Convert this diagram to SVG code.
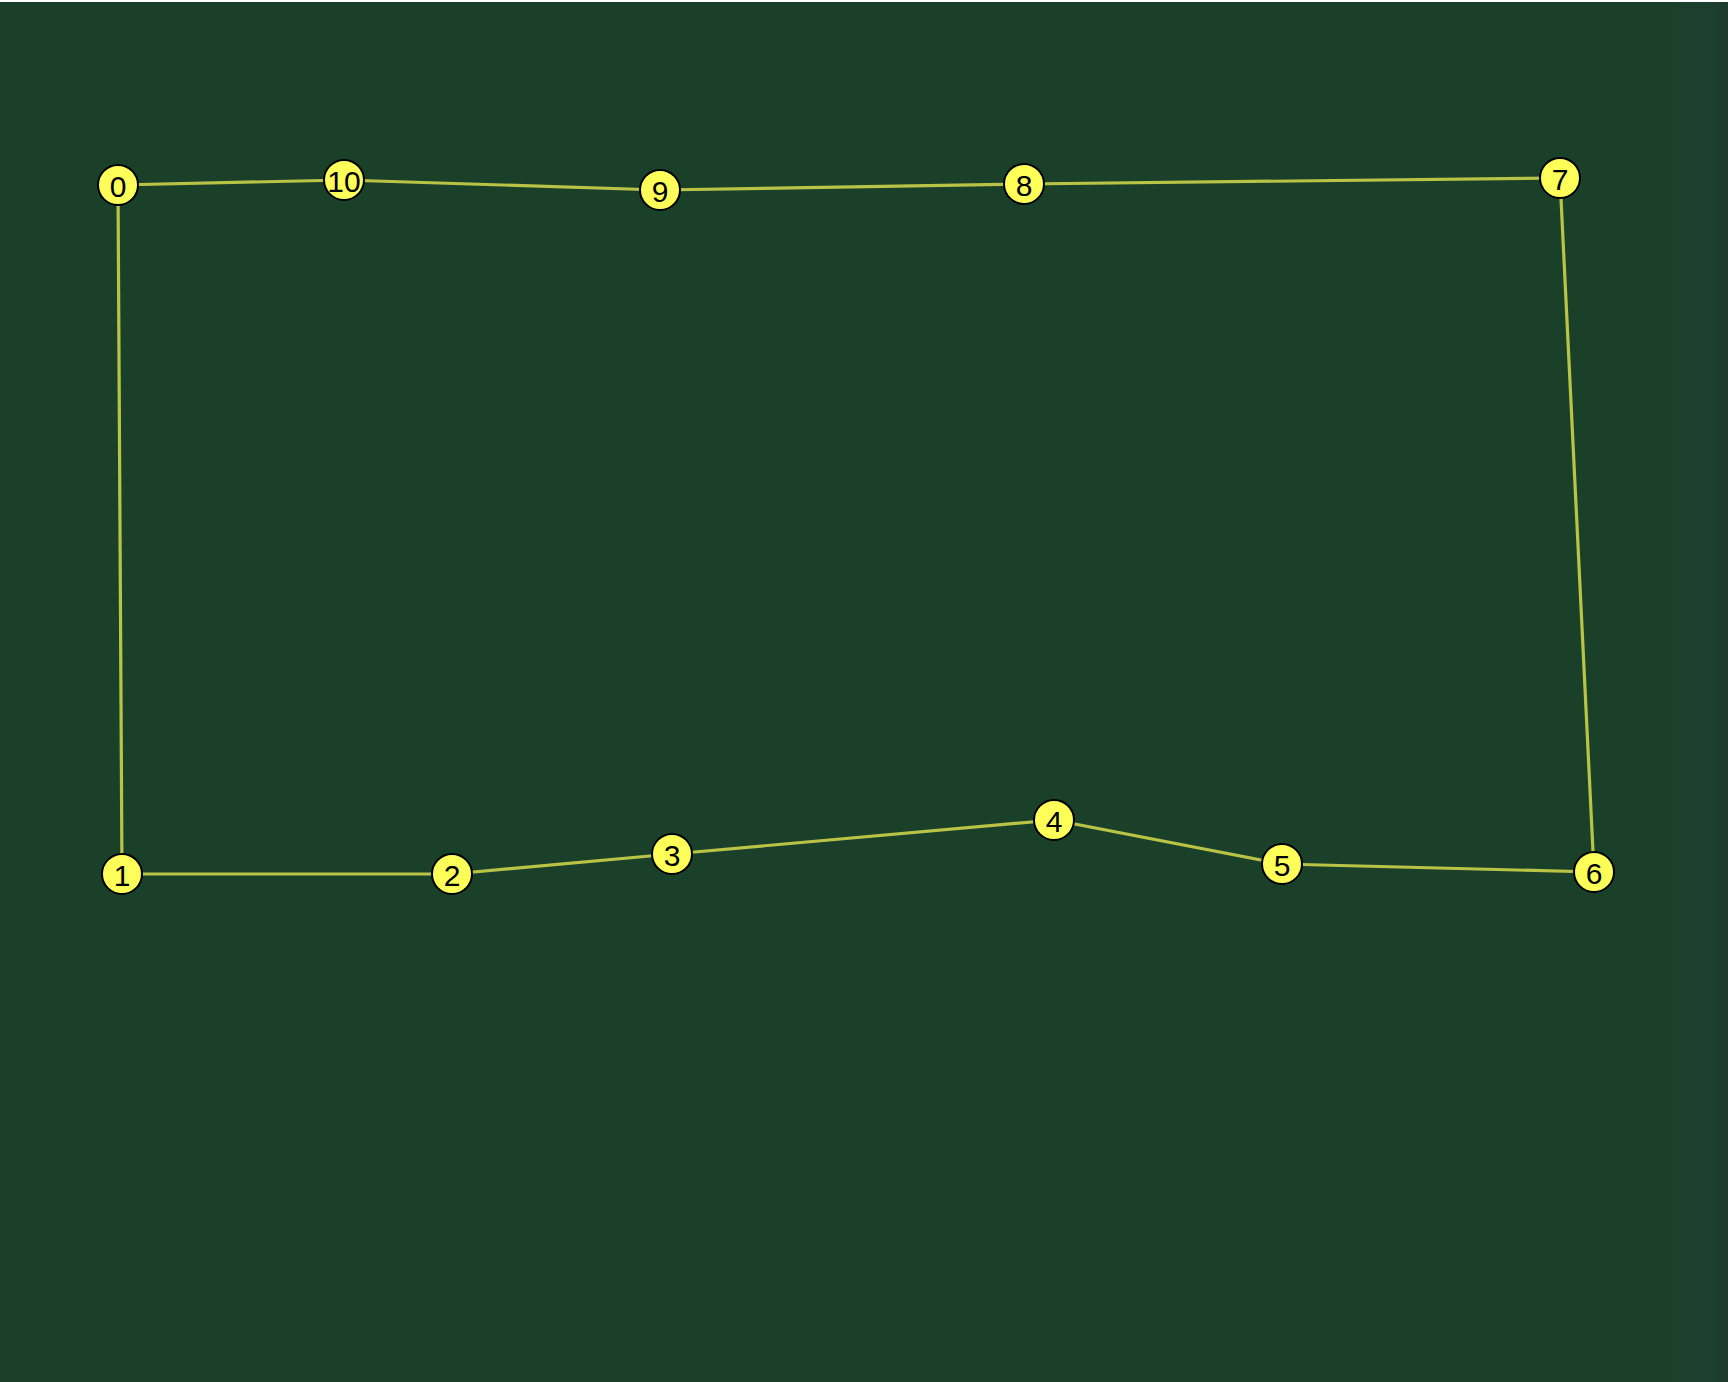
<svg xmlns="http://www.w3.org/2000/svg" width="1728" height="1382" viewBox="0 0 1728 1382">
<defs>
<linearGradient id="edge" x1="0" y1="0" x2="1" y2="0">
<stop offset="0" stop-color="#1b4030" stop-opacity="0"/>
<stop offset="0.7" stop-color="#1b4030" stop-opacity="1"/>
<stop offset="1" stop-color="#1d3a2e" stop-opacity="1"/>
</linearGradient>
</defs>
<style>
.bg{fill:#1a4029}
.e{stroke:#b9c447;stroke-width:3.2;fill:none}
.n circle{fill:#ffff5a;stroke:#000;stroke-width:2}
.n text{font-family:"Liberation Sans",Arial,sans-serif;font-size:30px;fill:#000;text-anchor:middle;dominant-baseline:central}
</style>
<rect class="bg" x="0" y="0" width="1728" height="1382"/>
<rect x="1660" y="0" width="68" height="1382" fill="url(#edge)"/>
<rect x="0" y="0" width="1728" height="2" fill="#ffffff"/>
<g id="connectors">
<line class="e" x1="118" y1="185" x2="344" y2="180"/>
<line class="e" x1="344" y1="180" x2="660" y2="190"/>
<line class="e" x1="660" y1="190" x2="1024" y2="184"/>
<line class="e" x1="1024" y1="184" x2="1560" y2="178"/>
<line class="e" x1="1560" y1="178" x2="1594" y2="872"/>
<line class="e" x1="1594" y1="872" x2="1282" y2="864"/>
<line class="e" x1="1282" y1="864" x2="1054" y2="820"/>
<line class="e" x1="1054" y1="820" x2="672" y2="854"/>
<line class="e" x1="672" y1="854" x2="452" y2="874"/>
<line class="e" x1="452" y1="874" x2="122" y2="874"/>
<line class="e" x1="122" y1="874" x2="118" y2="185"/>
</g>
<g id="node0" class="n"><circle cx="118" cy="185" r="20"/><text x="118" y="186">0</text></g>
<g id="node1" class="n"><circle cx="122" cy="874" r="20"/><text x="122" y="875">1</text></g>
<g id="node2" class="n"><circle cx="452" cy="874" r="20"/><text x="452" y="875">2</text></g>
<g id="node3" class="n"><circle cx="672" cy="854" r="20"/><text x="672" y="855">3</text></g>
<g id="node4" class="n"><circle cx="1054" cy="820" r="20"/><text x="1054" y="821">4</text></g>
<g id="node5" class="n"><circle cx="1282" cy="864" r="20"/><text x="1282" y="865">5</text></g>
<g id="node6" class="n"><circle cx="1594" cy="872" r="20"/><text x="1594" y="873">6</text></g>
<g id="node7" class="n"><circle cx="1560" cy="178" r="20"/><text x="1560" y="179">7</text></g>
<g id="node8" class="n"><circle cx="1024" cy="184" r="20"/><text x="1024" y="185">8</text></g>
<g id="node9" class="n"><circle cx="660" cy="190" r="20"/><text x="660" y="191">9</text></g>
<g id="node10" class="n"><circle cx="344" cy="180" r="20"/><text x="344" y="181">10</text></g>
</svg>
